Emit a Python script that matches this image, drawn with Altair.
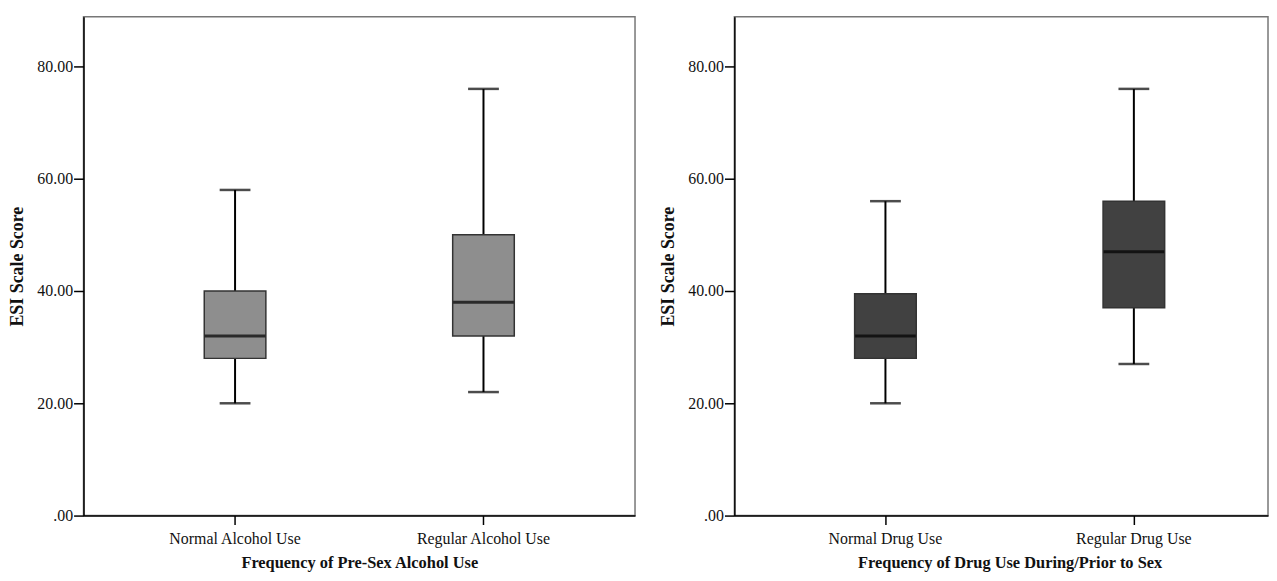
import altair as alt
import pandas as pd

# ---- data ----
alc_cats = ["Normal Alcohol Use", "Regular Alcohol Use"]
alc_low = [20, 22]
alc_q1 = [28, 32]
alc_med = [32, 38]
alc_q3 = [40, 50]
alc_high = [58, 76]

drug_cats = ["Normal Drug Use", "Regular Drug Use"]
drug_low = [20, 27]
drug_q1 = [28, 37]
drug_med = [32, 47]
drug_q3 = [39.5, 56]
drug_high = [56, 76]

y_ticks = [0, 20, 40, 60, 80]
y_max = 88.85

FONT = "Liberation Serif"


def panel(cats, lo, q1, med, q3, hi, fill, xtitle, width, xscale, title_x=None):
    df = pd.DataFrame({"cat": cats, "lo": lo, "q1": q1, "med": med, "q3": q3, "hi": hi})
    xaxis_kw = dict(labelAngle=0, tickSize=9, labelPadding=6, titlePadding=8,
                    domainWidth=1.5, tickWidth=1.5, titleFontSize=16.5)
    if title_x is not None:
        xaxis_kw["titleX"] = title_x
    xenc = alt.X("cat:N", sort=cats, scale=xscale, title=xtitle, axis=alt.Axis(**xaxis_kw))

    def yenc(field):
        return alt.Y(
            field + ":Q",
            scale=alt.Scale(domain=[0, y_max], nice=False, zero=True),
            title="ESI Scale Score",
            axis=alt.Axis(values=y_ticks, tickSize=10, labelPadding=1, titlePadding=10,
                          domainWidth=1.5, tickWidth=1.5, titleFontSize=18,
                          labelExpr="datum.value == 0 ? '.00' : format(datum.value, '.2f')"),
        )

    base = alt.Chart(df)
    whisk = base.mark_rule(color="black", strokeWidth=2).encode(x=xenc, y=yenc("lo"), y2="hi:Q")
    cap_lo = base.mark_tick(color="black", size=31, thickness=2.5).encode(x=xenc, y=yenc("lo"))
    cap_hi = base.mark_tick(color="black", size=31, thickness=2.5).encode(x=xenc, y=yenc("hi"))
    box = base.mark_bar(size=62, fill=fill, stroke="#333333", strokeWidth=1.5).encode(
        x=xenc, y=yenc("q1"), y2="q3:Q")
    median = base.mark_tick(color="black", size=61, thickness=3).encode(x=xenc, y=yenc("med"))
    return alt.layer(whisk, cap_lo, cap_hi, box, median).properties(width=width, height=502)


left = panel(alc_cats, alc_low, alc_q1, alc_med, alc_q3, alc_high, "#8e8e8e",
             "Frequency of Pre-Sex Alcohol Use", 555,
             alt.Scale(paddingInner=0, paddingOuter=0.11))
right = panel(drug_cats, drug_low, drug_q1, drug_med, drug_q3, drug_high, "#414141",
              "Frequency of Drug Use During/Prior to Sex", 537,
              alt.Scale(paddingInner=0, paddingOuter=0.074, align=0.73), title_x=277)

chart = alt.hconcat(left, right, spacing=23).properties(
    padding={"left": 0, "top": 6, "right": 0, "bottom": 0}
).configure_axis(
    labelFont=FONT, titleFont=FONT, labelFontSize=16,
    titleFontWeight="bold", domainColor="black", tickColor="black",
    labelColor="#111111", titleColor="#111111", grid=False,
).configure_view(stroke="#777777", strokeWidth=1.5)

chart.save("out.html", embed_options={"renderer": "svg", "actions": False})
